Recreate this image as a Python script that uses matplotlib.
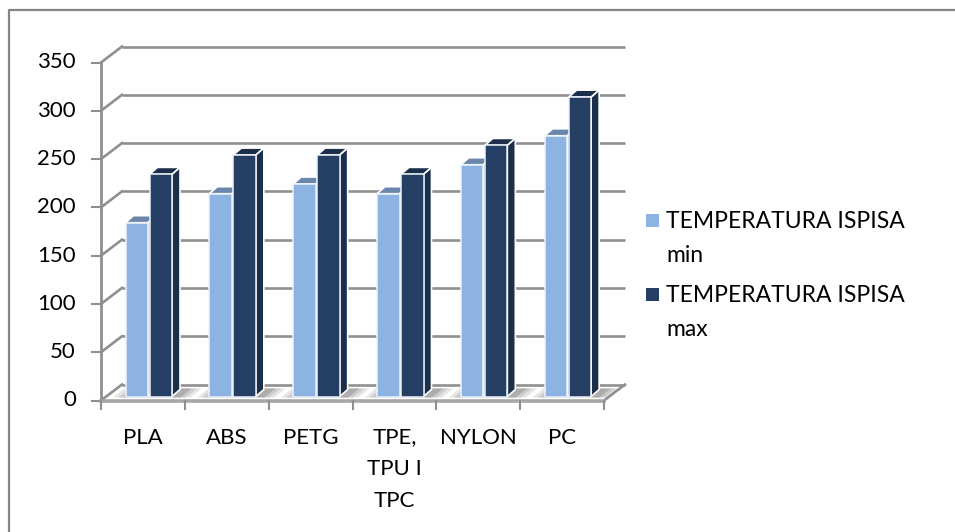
import numpy as np
import matplotlib
matplotlib.use('Agg')
import matplotlib.pyplot as plt
from matplotlib.lines import Line2D
from matplotlib.patches import Polygon, Rectangle
from matplotlib.transforms import Affine2D

categories = ['PLA', 'ABS', 'PETG', 'TPE,\nTPU I\nTPC', 'NYLON', 'PC']
temp_min = [180, 210, 220, 210, 240, 270]
temp_max = [230, 250, 250, 230, 260, 310]
yticks = [0, 50, 100, 150, 200, 250, 300, 350]
legend_labels = ['TEMPERATURA ISPISA\nmin', 'TEMPERATURA ISPISA\nmax']

W, H = 955, 532
plt.rcParams['font.family'] = ['Lato', 'DejaVu Sans']
fig = plt.figure(figsize=(W / 100, H / 100), dpi=100)
fig.patch.set_facecolor('white')

gray = '#8f8f8f'
light = '#8db3e2'
dark = '#243f63'

# frame of the picture: only top and left edge are there
fig.add_artist(Line2D([9 / W, 9 / W, 1], [0, 1 - 10 / H, 1 - 10 / H], color='#868686', lw=1.6,
                      transform=fig.transFigure))

# front plane of the axis box in pixels
x0, x1 = 101, 604
y0, y1 = 400.5, 62.5
ax = fig.add_axes([x0 / W, 1 - y0 / H, (x1 - x0) / W, (y0 - y1) / H])
ax.set_xlim(0, 6)
ax.set_ylim(0, 350)
ax.axis('off')

# pixel to data sizes
px = 6 / (x1 - x0)
py = 350 / (y0 - y1)
back_dx, back_dy = 21 * px, 16 * py

wall = ax.transData + Affine2D().translate(21, 16)
mid = ax.transData + Affine2D().translate(7, 4)

# gridlines on the back wall + slanted parts on the side wall
for v in yticks:
    ax.plot([0, 6], [v, v], color=gray, lw=1.9, transform=wall, clip_on=False, zorder=1, solid_capstyle='butt')
    ax.plot([0, back_dx], [v, v + back_dy], color=gray, lw=1.9, clip_on=False, zorder=1)
    ax.plot([-9 * px, 0], [v, v], color=gray, lw=1.5, clip_on=False, zorder=2)

ax.plot([6, 6 + back_dx], [0, back_dy], color=gray, lw=1.9, clip_on=False, zorder=2)
ax.plot([0, 0], [0, 350], color=gray, lw=2, clip_on=False, zorder=2)
ax.plot([0, 6], [0, 0], color='#a6a6a6', lw=2.6, clip_on=False, zorder=2)
for i in range(7):
    ax.plot([i, i], [0, -8 * py], color=gray, lw=1.5, clip_on=False, zorder=2)

bw = 22.5 * px
gap = 1.5 * px
ddx, ddy = 8 * px, 7 * py
xpos = np.arange(6) + 17.5 * px


def draw_series(xs, vals, front, top, side):
    ax.bar(xs, vals, width=bw, align='edge', color=front, ec='#eef3fa', lw=1.1,
           transform=mid, clip_on=False, zorder=4)
    for x, v in zip(xs, vals):
        ax.add_patch(Polygon([[x, v], [x + ddx, v + ddy], [x + bw + ddx, v + ddy], [x + bw, v]], closed=True,
                             fc=top, ec='white', lw=1.2, transform=mid, clip_on=False, zorder=3.5))
        ax.add_patch(Polygon([[x + bw, 0], [x + bw + ddx, ddy], [x + bw + ddx, v + ddy], [x + bw, v]], closed=True,
                             fc=side, ec='white', lw=1.2, transform=mid, clip_on=False, zorder=3.5))


# soft shadow round the base of each pair
pair = 2 * bw + gap
for x in xpos:
    for grow, shade, a in [(12, '#d9d9d9', 0.7), (7, '#c2c2c2', 0.7), (2, '#a0a0a0', 0.7)]:
        g = grow * px
        ax.add_patch(Polygon([[x - g, -1 * py], [x - g + ddx + 3 * px, ddy + 1 * py],
                              [x + pair + g + 2.2 * ddx, ddy + 1 * py], [x + pair + g + 0.8 * ddx, -1 * py]],
                             closed=True, fc=shade, ec='none', alpha=a, transform=mid, clip_on=False, zorder=1.7))

draw_series(xpos + bw + gap, temp_max, dark, '#1b2f4b', '#1b2f4b')
draw_series(xpos, temp_min, light, '#6a86aa', '#6a86aa')

for v in yticks:
    ax.text(-25 * px, v, str(v), ha='right', va='center', fontsize=16, color='black', clip_on=False)
for i, c in enumerate(categories):
    ax.text(i + 0.5, -27 * py, c, ha='center', va='top', fontsize=16, color='black',
            linespacing=1.72, clip_on=False)

# legend by hand so the wrapped labels sit as in the chart
colors = [light, dark]
for lab, col, top_y in zip(legend_labels, colors, [214, 288]):
    fig.add_artist(Rectangle((646 / W, 1 - (top_y + 13) / H), 13 / W, 13 / H, transform=fig.transFigure,
                             fc=col, ec='none'))
    fig.text(666 / W, 1 - (top_y - 3) / H, lab, ha='left', va='top', fontsize=16.5, color='black', linespacing=1.78)

fig.savefig('out.png', dpi=100)
